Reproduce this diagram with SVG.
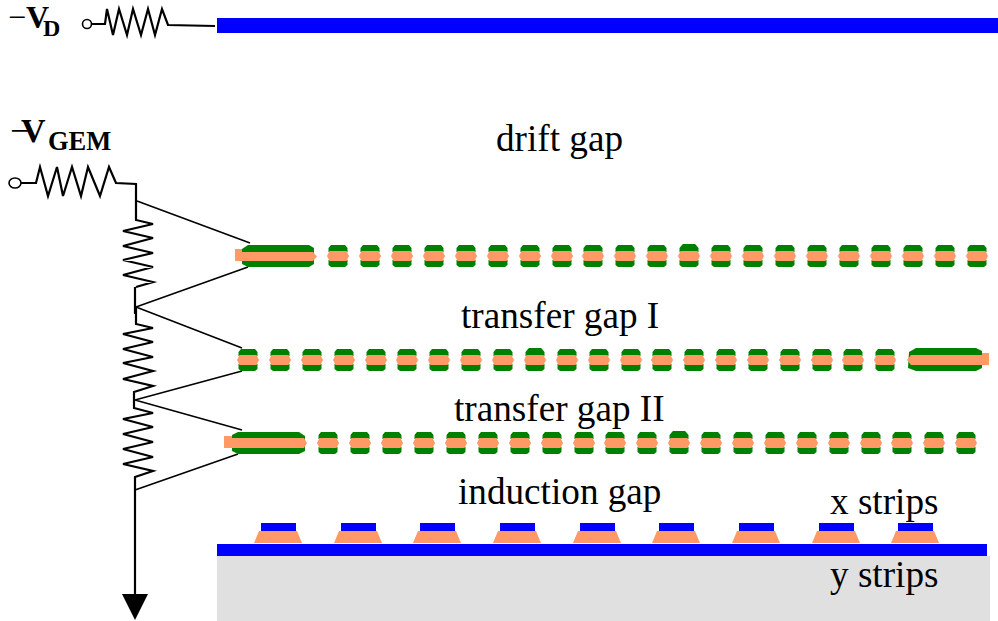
<svg xmlns="http://www.w3.org/2000/svg" xmlns:xlink="http://www.w3.org/1999/xlink" width="998" height="621" viewBox="0 0 998 621">
<style>
text{font-family:"Liberation Serif","Times New Roman",serif;fill:#000}
.l{font-size:37.2px}
.b{font-weight:bold}
.w{fill:none;stroke:#000;stroke-width:1.6}
.r{fill:none;stroke:#000;stroke-width:2.2}
.g{fill:#008000}
.o{fill:#ff9966}
.bl{fill:#0000ff}
</style>
<defs>
<g id="hole">
<path class="g" d="M-9.500,-4 L-9.500,-8 L-7,-11 L7,-11 L9.500,-8 L9.500,-4 Z M-9.500,4 L9.500,4 L9.500,9 L7,11 L-7,11 L-9.500,9 Z"/>
<path class="o" d="M-11,0 L-8.500,-5 L8.500,-5 L11,0 L8.500,5 L-8.500,5 Z"/>
</g>
<g id="strip">
<rect class="bl" x="7" y="0" width="35" height="8"/>
<path class="o" d="M5,8 L43,8 L48,20 L0,20 Z"/>
</g>
</defs>

<g id="drift-electrode"><rect class="bl" x="217" y="18" width="781" height="15"/></g>

<g id="label-vd"><text class="b" font-size="32"><tspan x="8" y="28" font-weight="normal">−</tspan><tspan x="26" y="28">V</tspan><tspan x="43" y="36" font-size="24">D</tspan></text></g>
<g id="label-vgem"><text class="b" font-size="34"><tspan x="10" y="142" font-weight="normal">−</tspan><tspan x="21" y="142">V</tspan><tspan x="48" y="150" font-size="26.500">GEM</tspan></text></g>

<g id="connectors">
<circle class="w" cx="87" cy="24" r="4.500"/>
<path class="r" d="M92,24 L105,24 L107,9 L113,35 L119,9 L127,35 L133,9 L141,35 L148,9 L155,35 L162,9 L168,25 L215,26"/>
<ellipse class="w" cx="15" cy="183" rx="6" ry="5"/>
<path class="r" d="M21,183 L36,183 L40,167 L48,196 L57,167 L63,196 L72,167 L81,196 L88,167 L100,196 L109,167 L116,183 L136,184 L136,220 L153,224 L123,231 L153,238 L123,246 L153,253 L123,260 L153,267 L123,275 L153,282 L136,287"/>
<path class="r" d="M135,287 L135,314 M136,306 L136,324 L153,328 L123,334 L153,342 L123,349 L153,357 L123,363 L153,371 L123,379 L153,386 L134,392 L134,408 L153,413 L123,419 L153,427 L123,434 L153,442 L123,449 L153,457 L123,464 L153,471 L135,477 L135,596"/>
<path class="w" d="M137,201 L250,243 M136,307 L248,267 M136,307 L242,348 M135,400 L242,371 M135,400 L242,430 M135,490 L238,454"/>
<path d="M122,594 L148,594 L135,620 Z" fill="#000"/>
</g>

<g id="gem1">
<path class="g" d="M242,249 L248,245 L309,245 L314,248 L314,264 L309,267 L248,267 L242,264 Z"/>
<path class="o" d="M235,249 L242,249 L242,252 L313,252 L317,256.500 L313,261 L235,261 Z"/>
<rect class="g" x="682.500" y="244" width="13" height="4"/>
<use href="#hole" x="338" y="256"/><use href="#hole" x="370" y="256"/><use href="#hole" x="402" y="256"/><use href="#hole" x="434" y="256"/><use href="#hole" x="466" y="256"/><use href="#hole" x="498" y="256"/><use href="#hole" x="530" y="256"/><use href="#hole" x="562" y="256"/><use href="#hole" x="593" y="256"/><use href="#hole" x="625" y="256"/><use href="#hole" x="657" y="256"/><use href="#hole" x="689" y="256"/><use href="#hole" x="721" y="256"/><use href="#hole" x="753" y="256"/><use href="#hole" x="785" y="256"/><use href="#hole" x="817" y="256"/><use href="#hole" x="849" y="256"/><use href="#hole" x="881" y="256"/><use href="#hole" x="913" y="256"/><use href="#hole" x="945" y="256"/><use href="#hole" x="977" y="256"/>
</g>

<g id="gem2">
<rect class="g" x="528.500" y="348" width="13" height="4"/>
<use href="#hole" x="248" y="360"/><use href="#hole" x="280" y="360"/><use href="#hole" x="312" y="360"/><use href="#hole" x="344" y="360"/><use href="#hole" x="376" y="360"/><use href="#hole" x="407" y="360"/><use href="#hole" x="439" y="360"/><use href="#hole" x="471" y="360"/><use href="#hole" x="503" y="360"/><use href="#hole" x="535" y="360"/><use href="#hole" x="567" y="360"/><use href="#hole" x="599" y="360"/><use href="#hole" x="631" y="360"/><use href="#hole" x="662" y="360"/><use href="#hole" x="694" y="360"/><use href="#hole" x="726" y="360"/><use href="#hole" x="758" y="360"/><use href="#hole" x="790" y="360"/><use href="#hole" x="822" y="360"/><use href="#hole" x="853" y="360"/><use href="#hole" x="885" y="360"/>
<path class="g" d="M909,352 L916,348 L976,348 L982,351 L982,368 L976,371 L916,371 L908,368 Z"/>
<path class="o" d="M907,360 L911,355 L982,355 L982,353 L989,353 L989,365 L911,365 Z"/>
</g>

<g id="gem3">
<path class="g" d="M232,435 L238,432 L299,432 L305,436 L305,451 L299,454 L238,454 L232,451 Z"/>
<path class="o" d="M224,436 L232,436 L232,438 L304,438 L307,443 L304,448 L224,448 Z"/>
<rect class="g" x="672.500" y="431" width="13" height="4"/>
<use href="#hole" x="328" y="443"/><use href="#hole" x="360" y="443"/><use href="#hole" x="392" y="443"/><use href="#hole" x="424" y="443"/><use href="#hole" x="456" y="443"/><use href="#hole" x="488" y="443"/><use href="#hole" x="520" y="443"/><use href="#hole" x="552" y="443"/><use href="#hole" x="584" y="443"/><use href="#hole" x="615" y="443"/><use href="#hole" x="647" y="443"/><use href="#hole" x="679" y="443"/><use href="#hole" x="711" y="443"/><use href="#hole" x="743" y="443"/><use href="#hole" x="775" y="443"/><use href="#hole" x="807" y="443"/><use href="#hole" x="839" y="443"/><use href="#hole" x="871" y="443"/><use href="#hole" x="902" y="443"/><use href="#hole" x="934" y="443"/><use href="#hole" x="966" y="443"/>
</g>

<g id="readout">
<rect x="217" y="556" width="773" height="65" fill="#e0e0e0"/>
<rect class="bl" x="217" y="544" width="770" height="12"/>
<use href="#strip" x="254" y="523"/><use href="#strip" x="334" y="523"/><use href="#strip" x="413" y="523"/><use href="#strip" x="493" y="523"/><use href="#strip" x="573" y="523"/><use href="#strip" x="652" y="523"/><use href="#strip" x="732" y="523"/><use href="#strip" x="812" y="523"/><use href="#strip" x="891" y="523"/>
</g>

<g id="labels">
<text class="l" x="496" y="151">drift gap</text>
<text class="l" x="461" y="328">transfer gap I</text>
<text class="l" x="454" y="421">transfer gap II</text>
<text class="l" x="458" y="504">induction gap</text>
<text class="l" x="830" y="514">x strips</text>
<text class="l" x="830" y="587">y strips</text>
</g>
</svg>
